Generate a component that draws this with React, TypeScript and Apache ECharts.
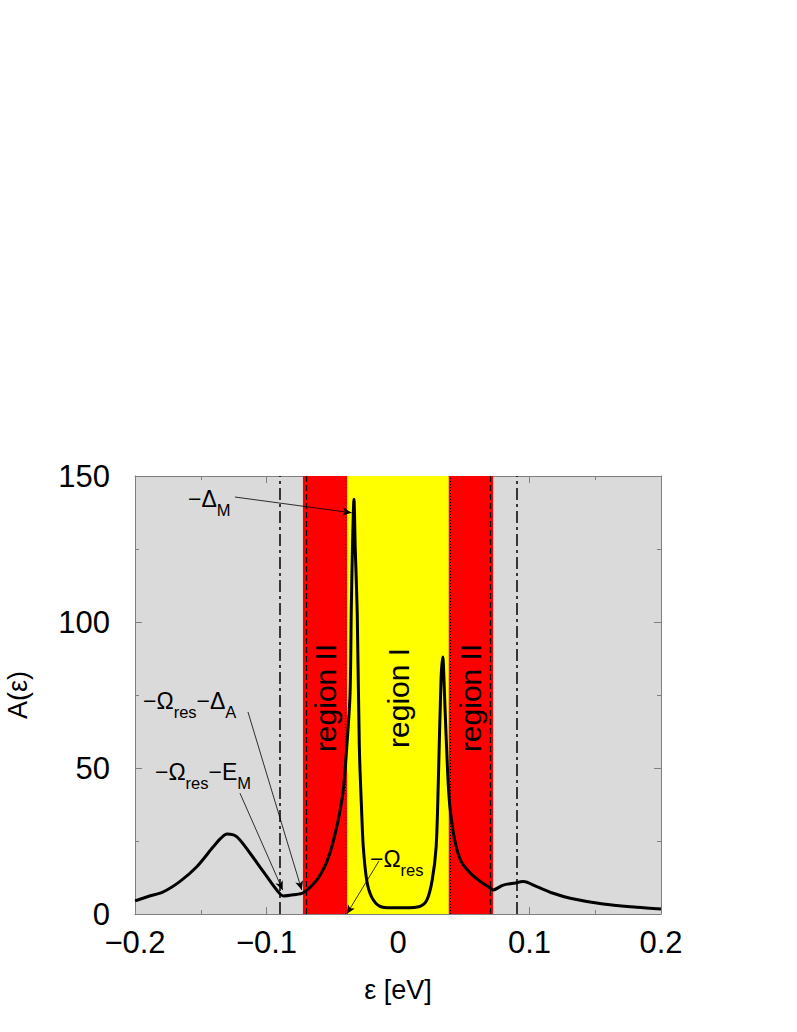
import React, { useEffect, useRef } from "react";
import * as echarts from "echarts";

// ---- data ----
const energy = [
  -0.2, -0.19, -0.1785, -0.166, -0.153, -0.1405, -0.135, -0.13, -0.1227, -0.1125,
  -0.1024, -0.0922, -0.0872, -0.0796, -0.072, -0.0618, -0.0555, -0.0517, -0.0492, -0.0455,
  -0.0416, -0.039, -0.0365, -0.0355, -0.0345, -0.0335, -0.0325, -0.031, -0.0294, -0.0276,
  -0.0264, -0.0238, -0.02, -0.0137, -0.005, 0.005, 0.0167, 0.022, 0.026, 0.029,
  0.0307, 0.0327, 0.034, 0.0357, 0.0378, 0.0395, 0.0433, 0.048, 0.055, 0.063,
  0.071, 0.072, 0.08, 0.0877, 0.0953, 0.1055, 0.118, 0.131, 0.156, 0.1815, 0.2,
];
const spectral = [
  4.5, 6.0, 7.6, 11.1, 16.2, 23, 25.8, 27.4, 26.5, 20.8,
  14.5, 8.2, 6.2, 6.6, 7.3, 11.6, 16.5, 21, 25, 32,
  42.5, 57, 75, 105, 128, 142, 125, 103, 57, 34.6,
  23, 11.6, 5.8, 2.6, 2.1, 2.1, 2.6, 4.8, 11.6, 23,
  46, 80, 88, 71, 48, 36.6, 25, 18, 14, 11,
  8.6, 8.2, 9.9, 10.5, 11.1, 9.4, 7.1, 5.4, 3.4, 2.3, 1.7,
];

const regionIBounds = [-0.0386, 0.0386];
const regionIILeft = [-0.0723, -0.0386];
const regionIIRight = [0.0386, 0.0723];
const dashDotPositions = [-0.0876, 0.0878];
const regionLabels = [
  { text: "region II", x: -0.0555, y: 74 },
  { text: "region I", x: 0, y: 74 },
  { text: "region II", x: 0.0555, y: 74 },
];

// text anchors: left edge, main baseline (data coords); arrows from -> to
const annotations = [
  { parts: [["−Δ", "M"]], tx: -0.1597, ty: 139.4, from: [-0.124, 142.8], to: [-0.0352, 137.4] },
  { parts: [["−Ω", "res"], ["−Δ", "A"]], tx: -0.1939, ty: 70.2, from: [-0.1141, 69.2], to: [-0.0732, 8.2] },
  { parts: [["−Ω", "res"], ["−E", "M"]], tx: -0.1848, ty: 45.9, from: [-0.1202, 41.4], to: [-0.0877, 8.2] },
  { parts: [["−Ω", "res"]], tx: -0.0213, ty: 16.1, from: [-0.0144, 18.2], to: [-0.039, 0] },
];

const FONT = "'Liberation Sans', Arial, Helvetica, sans-serif";
const FRAME = "#7f7f7f";

const fmtX = (v: number) => {
  const r = Math.round(v * 10) / 10;
  return r === 0 ? "0" : String(r).replace("-", "−");
};

export default function App() {
  const ref = useRef<HTMLDivElement>(null);
  useEffect(() => {
    if (!ref.current) return;
    const chart = echarts.init(ref.current, null, { renderer: "svg" });
    const curve = energy.map((e, i) => [e, spectral[i]]);
    const axisCommon = {
      type: "value",
      axisLine: { show: true, onZero: false, lineStyle: { color: FRAME, width: 1 } },
      axisTick: { show: true, inside: true, length: 7, lineStyle: { color: FRAME } },
      minorTick: { show: true, splitNumber: 2, length: 4, lineStyle: { color: FRAME } },
      splitLine: { show: false },
      minorSplitLine: { show: false },
    };
    const option: any = {
      animation: false,
      grid: {
        left: 135, right: 136, top: 476, bottom: 118,
        show: true, backgroundColor: "#dadada", borderWidth: 0,
        containLabel: false, outerBoundsMode: "none",
      },
      xAxis: [
        {
          ...axisCommon, position: "bottom", min: -0.2, max: 0.2, interval: 0.1,
          axisLabel: { fontSize: 31, color: "#000", fontFamily: FONT, margin: 13, formatter: fmtX },
          name: "ε [eV]", nameLocation: "middle", nameGap: 62,
          nameTextStyle: { fontSize: 27, color: "#000", fontFamily: FONT },
        },
        {
          ...axisCommon, position: "top", min: -0.2, max: 0.2, interval: 0.1,
          axisLabel: { show: false },
        },
      ],
      yAxis: [
        {
          ...axisCommon, position: "left", min: 0, max: 150, interval: 50,
          axisLabel: { fontSize: 31, color: "#000", fontFamily: FONT, margin: 25 },
          name: "A(ε)", nameLocation: "middle", nameGap: 104, nameRotate: 90,
          nameTextStyle: { fontSize: 27, color: "#000", fontFamily: FONT },
        },
        {
          ...axisCommon, position: "right", min: 0, max: 150, interval: 50,
          axisLabel: { show: false },
        },
      ],
      series: [
        {
          type: "line", data: curve, showSymbol: false, silent: true, z: 1,
          lineStyle: { opacity: 0 },
          markArea: {
            silent: true,
            data: [
              [{ xAxis: regionIILeft[0], itemStyle: { color: "#ff0000", opacity: 1 } }, { xAxis: regionIILeft[1] }],
              [{ xAxis: regionIBounds[0], itemStyle: { color: "#ffff00", opacity: 1 } }, { xAxis: regionIBounds[1] }],
              [{ xAxis: regionIIRight[0], itemStyle: { color: "#ff0000", opacity: 1 } }, { xAxis: regionIIRight[1] }],
            ],
          },
        },
        {
          type: "line", data: curve, showSymbol: false, silent: true, z: 2,
          lineStyle: { opacity: 0 },
          markLine: {
            silent: true, symbol: ["none", "none"], label: { show: false },
            data: [
              ...dashDotPositions.map((v) => ({ xAxis: v, lineStyle: { color: "#000", width: 1.5, type: [12, 4, 3, 4] } })),
              { xAxis: regionIILeft[0], lineStyle: { color: "#000", width: 1.3, type: [6, 3] } },
              { xAxis: regionIIRight[1], lineStyle: { color: "#000", width: 1.3, type: [6, 3] } },
              { xAxis: regionIBounds[0], lineStyle: { color: "#000", width: 1, type: [1, 2] } },
              { xAxis: regionIBounds[1], lineStyle: { color: "#000", width: 1, type: [1, 2] } },
            ],
          },
        },
        {
          type: "line", data: curve, showSymbol: false, silent: true, z: 5,
          smooth: 0.3,
          lineStyle: { color: "#000", width: 3 },
        },
        {
          type: "line", data: curve, showSymbol: false, silent: true, z: 6,
          lineStyle: { opacity: 0 },
          markLine: {
            silent: true, symbol: ["none", "arrow"], symbolSize: [6, 9], label: { show: false },
            lineStyle: { color: "#000", width: 0.8, type: "solid" },
            data: annotations.map((a) => [{ coord: a.from }, { coord: a.to }]),
          },
        },
      ],
    };
    chart.setOption(option);

    const graphics: any[] = [];
    annotations.forEach((a) => {
      const p = chart.convertToPixel({ gridIndex: 0 } as any, [a.tx, a.ty]) as number[];
      const text = a.parts.map(([m, s]) => `{m|${m}}{s|${s}}`).join("");
      graphics.push({
        type: "text", x: p[0], y: p[1] - 19.4, z: 100,
        style: {
          text, x: 0, y: 0, align: "left", textAlign: "left",
          verticalAlign: "top", textVerticalAlign: "top",
          rich: {
            m: { fontSize: 23, fontFamily: FONT, fontWeight: "normal", fill: "#000", color: "#000", verticalAlign: "top" },
            s: { fontSize: 16.5, fontFamily: FONT, fontWeight: "normal", fill: "#000", color: "#000", verticalAlign: "top", padding: [13.5, 0, 0, 0] },
          },
        },
      });
    });
    regionLabels.forEach((r) => {
      const p = chart.convertToPixel({ gridIndex: 0 } as any, [r.x, r.y]) as number[];
      graphics.push({
        type: "text", x: p[0], y: p[1], rotation: Math.PI / 2, z: 100,
        style: {
          text: r.text, x: 0, y: 0, fontSize: 30, fontFamily: FONT, fontWeight: "normal",
          fill: "#000", stroke: "none", lineWidth: 0,
          align: "center", textAlign: "center", verticalAlign: "middle", textVerticalAlign: "middle",
        },
      });
    });
    chart.setOption({ graphic: graphics });

    return () => chart.dispose();
  }, []);
  return (
    <div
      ref={ref}
      style={{ position: "fixed", left: 0, top: 0, width: 797, height: 1032, background: "#fff" }}
    />
  );
}
